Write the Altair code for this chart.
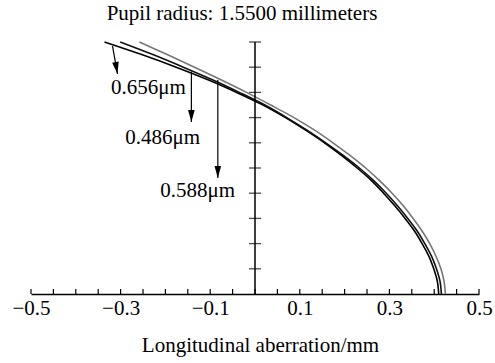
import altair as alt
import pandas as pd

FONT = "Liberation Serif"

# normalized pupil coordinate (vertical axis)
pupil = [0.00, 0.05, 0.10, 0.15, 0.20, 0.25, 0.30, 0.35, 0.40, 0.45, 0.50,
         0.55, 0.60, 0.65, 0.70, 0.75, 0.80, 0.85, 0.90, 0.95, 1.00]
# longitudinal aberration (mm) for each wavelength
wl_656 = [0.410, 0.407, 0.399, 0.388, 0.373, 0.356, 0.335, 0.312, 0.287, 0.260, 0.228,
          0.193, 0.155, 0.113, 0.068, 0.018, -0.041, -0.105, -0.176, -0.253, -0.336]
wl_486 = [0.416, 0.413, 0.405, 0.394, 0.379, 0.362, 0.341, 0.318, 0.293, 0.265, 0.233,
          0.197, 0.158, 0.116, 0.071, 0.022, -0.035, -0.095, -0.160, -0.228, -0.301]
wl_588 = [0.425, 0.422, 0.415, 0.404, 0.390, 0.373, 0.353, 0.331, 0.306, 0.278, 0.247,
          0.212, 0.174, 0.133, 0.087, 0.035, -0.019, -0.076, -0.135, -0.196, -0.258]

x_label_values = [-0.5, -0.3, -0.1, 0.1, 0.3, 0.5]
x_minor_ticks = [-0.5, -0.45, -0.4, -0.35, -0.3, -0.25, -0.2, -0.15, -0.1, -0.05, 0.0,
                 0.05, 0.1, 0.15, 0.2, 0.25, 0.3, 0.35, 0.4, 0.45, 0.5]
y_ticks = [0.1, 0.2, 0.3, 0.4, 0.5, 0.6, 0.7, 0.8, 0.9, 1.0]

labels = ["0.656\u03bcm", "0.486\u03bcm", "0.588\u03bcm"]
label_x = [-0.238, -0.206, -0.128]
label_y = [0.817, 0.619, 0.409]

arrow_x0 = [-0.318, -0.142, -0.083]
arrow_y0 = [0.984, 0.883, 0.849]
arrow_x1 = [-0.307, -0.142, -0.083]
arrow_y1 = [0.873, 0.683, 0.460]

W, H = 448, 252

rows = []
for name, vals in [("0.656", wl_656), ("0.486", wl_486), ("0.588", wl_588)]:
    for i, (p, v) in enumerate(zip(pupil, vals)):
        rows.append({"x": v, "y": p, "wave": name, "i": i})
curves_df = pd.DataFrame(rows)

xscale = alt.Scale(domain=[-0.5, 0.5], nice=False, zero=False)
yscale = alt.Scale(domain=[0, 1], nice=False, zero=False)

xaxis = alt.Axis(
    values=x_label_values, ticks=False, grid=False, domainColor="black", domainWidth=1.5,
    labelFont=FONT, labelFontSize=21, labelColor="black", labelPadding=3, labelFlush=False,
    labelOverlap=False, labelBound=False,
    labelExpr="replace(format(datum.value, '.1f'), '-', '\u2212')",
    title="Longitudinal aberration/mm", titleFont=FONT, titleFontSize=21,
    titleFontWeight="normal", titleColor="black", titleX=229, titleY=57,
    titleBaseline="alphabetic", titleAlign="center",
)

X = alt.X("x:Q", scale=xscale, axis=xaxis)
Y = alt.Y("y:Q", scale=yscale, axis=None)

curves = alt.Chart(curves_df).mark_line(interpolate="cardinal").encode(
    x=X, y=Y,
    detail="wave:N",
    order=alt.Order("i:Q"),
    color=alt.Color("wave:N", scale=alt.Scale(domain=["0.656", "0.486", "0.588"],
                                             range=["#000000", "#111111", "#777777"]), legend=None),
    strokeWidth=alt.StrokeWidth("wave:N", scale=alt.Scale(domain=["0.656", "0.486", "0.588"],
                                                         range=[1.6, 1.6, 0.9]), legend=None),
)

ticks_df = pd.DataFrame({"x": x_minor_ticks})
xticks = alt.Chart(ticks_df).mark_rule(color="black", strokeWidth=1.2).encode(
    x=X, y=alt.value(H), y2=alt.value(H - 5)
)

yaxis_df = pd.DataFrame({"x": [0.0], "y": [0.0], "y2": [1.0]})
yaxis_line = alt.Chart(yaxis_df).mark_rule(color="black", strokeWidth=1.5).encode(
    x=X, y=Y, y2="y2:Q"
)

yt_df = pd.DataFrame({"x": [0.0] * len(y_ticks), "y": y_ticks})
yticks = alt.Chart(yt_df).mark_tick(orient="horizontal", size=12, thickness=1.3,
                                    color="black").encode(x=X, y=Y)

arrows_df = pd.DataFrame({"x": arrow_x0, "y": arrow_y0, "x2": arrow_x1, "y2": arrow_y1,
                          "k": [0, 1, 2]})
shafts = alt.Chart(arrows_df).mark_rule(color="black", strokeWidth=1.2).encode(
    x=X, y=Y, x2="x2:Q", y2="y2:Q"
)
HEAD = "M-0.55,-1L0.55,-1L0,1Z"
heads_df = pd.DataFrame({"x": arrow_x1, "y": arrow_y1, "k": [0, 1, 2]})
head_slant = alt.Chart(heads_df).transform_filter("datum.k == 0").mark_point(
    shape=HEAD, filled=True, size=144, color="black", opacity=1, yOffset=-6, xOffset=-1, angle=350
).encode(x=X, y=Y)
heads_straight = alt.Chart(heads_df).transform_filter("datum.k > 0").mark_point(
    shape=HEAD, filled=True, size=144, color="black", opacity=1, yOffset=-6
).encode(x=X, y=Y)

text_df = pd.DataFrame({"x": label_x, "y": label_y, "label": labels})
texts = alt.Chart(text_df).mark_text(font=FONT, fontSize=21, color="black",
                                     align="center", baseline="middle").encode(
    x=X, y=Y, text="label:N"
)

chart = alt.layer(curves, xticks, yaxis_line, yticks, shafts, head_slant, heads_straight, texts).properties(
    width=W, height=H,
    title=alt.TitleParams("Pupil radius: 1.5500 millimeters", font=FONT, fontSize=21,
                          fontWeight="normal", color="black", anchor="middle", dx=-13,
                          baseline="alphabetic", offset=4, dy=6),
    autosize=alt.AutoSizeParams(type="none"),
    padding={"left": 31, "top": 42, "right": 16, "bottom": 69},
    background="white",
).configure_view(stroke=None)

chart.save("out.html", embed_options={"renderer": "svg", "actions": False})
